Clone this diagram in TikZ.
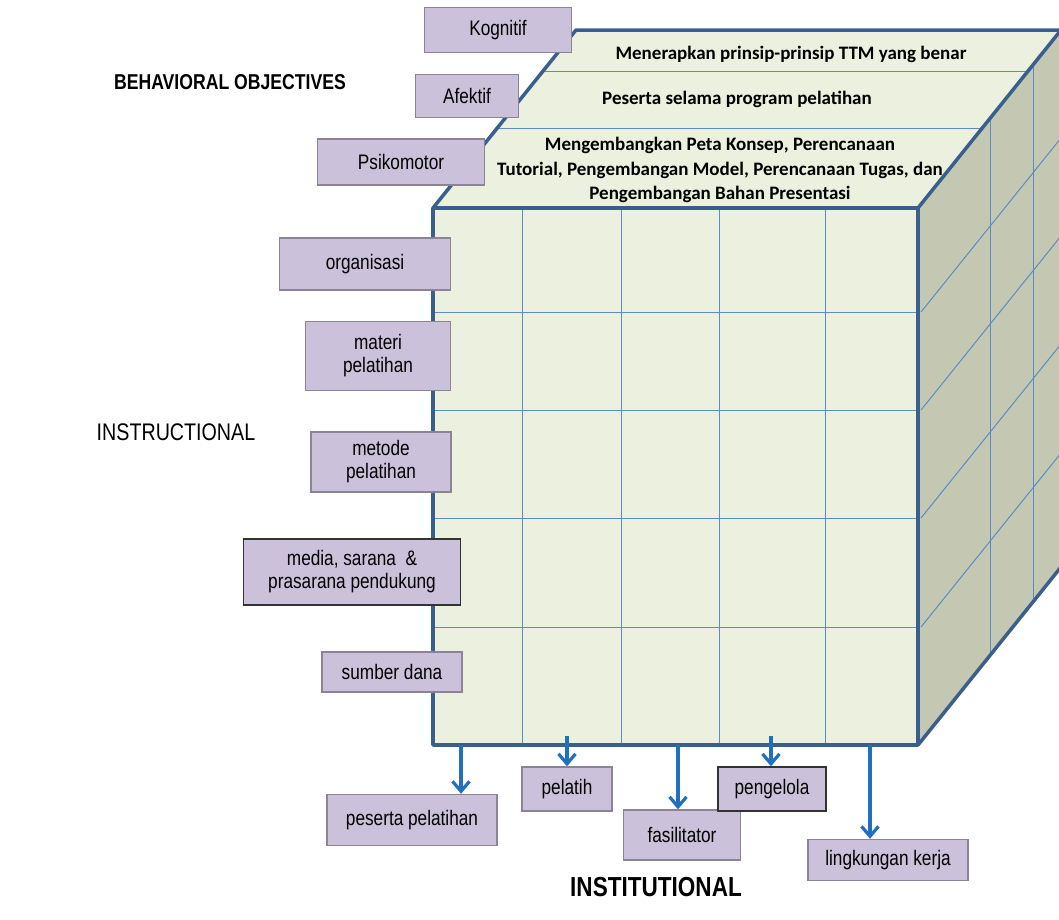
\documentclass[tikz,border=0pt]{standalone}
\usepackage{fontspec}
\setmainfont{Liberation Sans}
\newfontfamily\narrowsans[FakeStretch=0.82]{Liberation Sans}
\newfontfamily\calibri{Carlito}
\usetikzlibrary{arrows.meta}
\definecolor{faceFront}{HTML}{EBF1DE}
\definecolor{faceSide}{HTML}{C4C8B2}
\definecolor{edgeBlue}{HTML}{3A5F8F}
\definecolor{gridBlue}{HTML}{5B8CC4}
\definecolor{boxFill}{HTML}{CCC1DA}
\definecolor{boxLine}{HTML}{8C8496}
\definecolor{arrowBlue}{HTML}{1F70C1}

\begin{document}
\begin{tikzpicture}[x=1pt, y=-1pt,
    every node/.style={align=center},
    lbl/.style={draw=boxLine, fill=boxFill, line width=1.4pt, inner sep=2pt,
        font=\narrowsans\fontsize{21}{23}\selectfont},
    dark/.style={draw=black!80},
    head/.style={font=\narrowsans\fontsize{21}{23}\selectfont},
    toptext/.style={font=\calibri\bfseries\fontsize{19}{24.5}\selectfont},
    grid/.style={gridBlue, line width=1pt},
    edge/.style={edgeBlue, line width=3.5pt, line join=round},
    arr/.style={arrowBlue, line width=3.2pt, -{Straight Barb[length=10pt,width=17pt]}}]
\useasboundingbox (0,0) rectangle (1059,919);

\coordinate (fa) at (433,208);
\coordinate (fb) at (918,208);
\coordinate (fc) at (918,745);
\coordinate (fd) at (433,745);
\coordinate (ba) at (576,30);
\coordinate (bb) at (1061,30);
\coordinate (bc) at (1061,567);

\fill[faceFront] (fa) -- (ba) -- (bb) -- (fb) -- cycle;
\fill[faceSide] (fb) -- (bb) -- (bc) -- (fc) -- cycle;
\fill[faceFront] (fa) rectangle (fc);

\foreach \x in {522,621,719,825}
    \draw[grid] (\x,208) -- (\x,745);
\foreach \y in {312,410,518,627} {
    \draw[grid] (921,\y) -- ++(140,-174);
    \draw[grid] (433,\y) -- (918,\y);
}
\draw[grid] (990,119) -- (990,656);
\draw[grid] (1033,64) -- (1033,601);
\draw[grid] (541,71) -- (1026,71);
\draw[grid] (496,128) -- (981,128);

\draw[edge] (fa) rectangle (fc);
\draw[edge] (fa) -- (ba) -- (bb) -- (fb);
\draw[edge] (bb) -- (bc) -- (fc);

\node[toptext] (tm) at (791,54) {Menerapkan prinsip-prinsip TTM yang benar};
\node[toptext] (tp) at (737,99) {Peserta selama program pelatihan};
\node[toptext] (tk) at (720,170) {Mengembangkan Peta Konsep, Perencanaan\\
    Tutorial, Pengembangan Model, Perencanaan Tugas, dan\\
    Pengembangan Bahan Presentasi};

\node[head, font=\narrowsans\bfseries\fontsize{21.5}{23}\selectfont] (beh) at (230,82) {BEHAVIORAL OBJECTIVES};
\node[head, font=\narrowsans\fontsize{24}{26}\selectfont] (ins) at (176,432) {INSTRUCTIONAL};
\node[head, font=\narrowsans\bfseries\fontsize{27.5}{29}\selectfont] (ist) at (656,887) {INSTITUTIONAL};

\node[lbl, minimum width=147, minimum height=45] (kog) at (498,30) {Kognitif};
\node[lbl, minimum width=103, minimum height=43] (afe) at (467,96) {Afektif};
\node[lbl, minimum width=167, minimum height=46] (psi) at (401,162) {Psikomotor};
\node[lbl, minimum width=171, minimum height=52] (org) at (365,264) {organisasi};
\node[lbl, minimum width=145, minimum height=69] (mat) at (378,356) {materi\\pelatihan};
\node[lbl, minimum width=140, minimum height=60] (met) at (381,462) {metode\\pelatihan};
\node[lbl, dark, minimum width=217, minimum height=66] (med) at (352,572) {media, sarana\ \ \&\\prasarana pendukung};
\node[lbl, minimum width=140, minimum height=40] (sum) at (392,672) {sumber dana};

\node[lbl, minimum width=170, minimum height=51] (pes) at (412,820) {peserta pelatihan};
\node[lbl, minimum width=90, minimum height=44] (pel) at (567,789) {pelatih};
\node[lbl, minimum width=117, minimum height=50] (fas) at (682,835) {fasilitator};
\node[lbl, dark, minimum width=108, minimum height=44] (pen) at (772,789) {pengelola};
\node[lbl, minimum width=160, minimum height=41] (lin) at (888,860) {lingkungan kerja};

\coordinate (s1) at (461,745);
\coordinate (s2) at (567,736);
\coordinate (s3) at (678,745);
\coordinate (s4) at (771,736);
\coordinate (s5) at (870,745);
\draw[arr] (s1) -- (s1 |- pes.north);
\draw[arr] (s2) -- (s2 |- pel.north);
\draw[arr] (s3) -- (s3 |- fas.north);
\draw[arr] (s4) -- (s4 |- pen.north);
\draw[arr] (s5) -- (s5 |- lin.north);
\end{tikzpicture}
\end{document}
